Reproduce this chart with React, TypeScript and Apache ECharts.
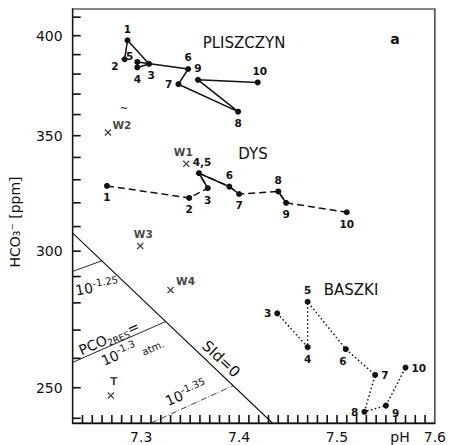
import { useEffect, useRef } from "react";
import * as echarts from "echarts";

// ---- data (pH, HCO3- in ppm) ----
const pliszczynLabels = ["2", "1", "3", "4", "5", "6", "7", "8", "9", "10"];
const pliszczynPH = [7.283, 7.286, 7.308, 7.296, 7.296, 7.348, 7.338, 7.399, 7.358, 7.419];
const pliszczynHCO3 = [387.6, 397.5, 385.2, 383.4, 386.2, 382.6, 374.9, 361.4, 377.1, 375.8];

const dysLabels = ["1", "2", "3", "4,5", "6", "7", "8", "9", "10"];
const dysPH = [7.265, 7.349, 7.368, 7.359, 7.39, 7.4, 7.44, 7.448, 7.51];
const dysHCO3 = [327.3, 322.1, 326.3, 332.9, 327.0, 323.8, 324.9, 320.0, 316.0];
// index ranges of DYS drawn with a solid stroke in the original
const dysSolidRuns = [[2, 5], [6, 7]];

const baszkiLabels = ["3", "4", "5", "6", "7", "8", "9", "10"];
const baszkiPH = [7.439, 7.47, 7.47, 7.509, 7.539, 7.528, 7.55, 7.57];
const baszkiHCO3 = [276.1, 263.9, 280.4, 263.2, 254.3, 242.1, 244.1, 256.8];

const wellLabels = ["W1", "W2", "W3", "W4", "T"];
const wellPH = [7.346, 7.266, 7.299, 7.33, 7.269];
const wellHCO3 = [337.1, 351.5, 302.1, 284.8, 247.4];

// reference lines: SId = 0 and PCO2 isolines
const sidPH = [7.23, 7.434];
const sidHCO3 = [307.3, 238.5];
const pco2_125PH = [7.23, 7.26];
const pco2_125HCO3 = [292.0, 296.2];
const pco2_130PH = [7.23, 7.325];
const pco2_130HCO3 = [258.6, 273.1];
const pco2_135PH = [7.31, 7.394];
const pco2_135HCO3 = [238.5, 250.7];

// axes
const xRange = [7.23, 7.6];
const yRange = [238.5, 414.5];
const xTickLabels = [7.3, 7.4, 7.5, 7.6];
const xMinorStep = 0.01;
const xMinorTicks: number[] = [];
for (let i = 724; i <= 759; i++) xMinorTicks.push(i / 100);
const yTickLabels = [250, 300, 350, 400];
const yMinorTicks: number[] = [];
for (let v = 240; v <= 410; v += 10) yMinorTicks.push(v);

// ---- label placement (style) ----
type Place = [string, number[]];
const pliszczynPlace: Place[] = [
  ["left", [0, 7]], ["top", [0, 0]], ["bottom", [2, 0]], ["bottom", [0, 0]], ["left", [2, -6]],
  ["top", [0, 0]], ["left", [0, 0]], ["bottom", [0, 0]], ["top", [0, 0]], ["top", [2, 0]],
];
const dysPlace: Place[] = [
  ["bottom", [0, 0]], ["bottom", [0, 0]], ["bottom", [0, 0]], ["top", [3, 0]], ["top", [0, 0]],
  ["bottom", [0, 0]], ["top", [0, 0]], ["bottom", [0, 0]], ["bottom", [0, 0]],
];
const baszkiPlace: Place[] = [
  ["left", [0, 0]], ["bottom", [0, 0]], ["top", [0, 0]], ["bottom", [-3, 0]],
  ["right", [0, 0]], ["left", [0, 0]], ["right", [0, 7]], ["right", [0, 0]],
];
const wellPlace: Place[] = [
  ["top", [-3, 0]], ["right", [-2, -7]], ["top", [3, 0]], ["right", [-1, -9]], ["top", [3, -3]],
];

const F = "DejaVu Sans";
const INK = "#111";
const TICK_LEN = 8;

function pointSeries(xs: number[], ys: number[], labels: string[], places: Place[], lineType: any) {
  return {
    type: "line",
    data: xs.map((x, i) => ({
      value: [x, ys[i]],
      label: { show: true, formatter: labels[i], position: places[i][0], offset: places[i][1] },
    })),
    symbol: "circle",
    symbolSize: 6,
    itemStyle: { color: INK },
    lineStyle: { color: INK, width: 1.5, type: lineType },
    label: { fontFamily: F, fontSize: 10.5, fontWeight: "bold", color: INK, distance: 3 },
    silent: true,
    z: 5,
  };
}

function plainLine(xs: number[], ys: number[], width: number, type: any = "solid") {
  return {
    type: "line",
    data: xs.map((x, i) => [x, ys[i]]),
    symbol: "none",
    lineStyle: { color: INK, width, type },
    silent: true,
    z: 3,
  };
}

// inward tick marks drawn at data positions on an axis edge
function tickSeries(points: number[][], dx: number, dy: number) {
  return {
    type: "custom",
    data: points,
    clip: false,
    silent: true,
    z: 6,
    renderItem: (_p: any, api: any) => {
      const c = api.coord([api.value(0), api.value(1)]);
      return {
        type: "line",
        shape: { x1: c[0], y1: c[1], x2: c[0] + dx, y2: c[1] + dy },
        style: { stroke: INK, lineWidth: 1.6 },
      };
    },
  };
}

const X_SYMBOL = "path://M0,1.3L1.3,0L5,3.7L8.7,0L10,1.3L6.3,5L10,8.7L8.7,10L5,6.3L1.3,10L0,8.7L3.7,5Z";

export default function App() {
  const ref = useRef<HTMLDivElement>(null);
  useEffect(() => {
    const chart = echarts.init(ref.current!, null, { renderer: "svg" });
    const supRich = {
      s: { fontSize: 10, lineHeight: 10, verticalAlign: "top", fontFamily: F, fill: INK },
    };
    const isMajor = (v: number) => xTickLabels.some((t) => Math.abs(t - v) < 1e-6);
    const option: any = {
      animation: false,
      backgroundColor: "#fff",
      grid: {
        left: 72.7, right: 13.3, top: 9, bottom: 22,
        show: true, borderColor: INK, borderWidth: 1.2, backgroundColor: "rgba(0,0,0,0)",
      },
      xAxis: {
        type: "value",
        min: xRange[0], max: xRange[1], interval: xMinorStep,
        axisLine: { show: true, lineStyle: { color: INK, width: 1.3 } },
        axisTick: { show: false },
        axisLabel: {
          fontSize: 14, fontFamily: F, color: INK, margin: 7,
          formatter: (v: number) => (isMajor(v) ? v.toFixed(1) : ""),
        },
        splitLine: { show: false },
      },
      yAxis: {
        type: "log",
        logBase: 10,
        min: yRange[0], max: yRange[1],
        axisLine: { show: true, lineStyle: { color: INK, width: 1.3 } },
        axisTick: { show: false },
        axisLabel: {
          customValues: yTickLabels, fontSize: 14, fontFamily: F, color: INK, margin: 10,
          formatter: (v: number) => String(Math.round(v)),
        },
        splitLine: { show: false },
        minorTick: { show: false },
      },
      series: [
        tickSeries(yMinorTicks.map((v) => [xRange[0], v]), TICK_LEN, 0),
        tickSeries(xMinorTicks.map((v) => [v, yRange[0]]), 0, -TICK_LEN),
        plainLine(sidPH, sidHCO3, 1.1),
        plainLine(pco2_125PH, pco2_125HCO3, 0.9),
        plainLine(pco2_130PH, pco2_130HCO3, 0.9),
        plainLine(pco2_135PH, pco2_135HCO3, 0.8, [6, 2, 1, 2]),
        pointSeries(pliszczynPH, pliszczynHCO3, pliszczynLabels, pliszczynPlace, "solid"),
        pointSeries(dysPH, dysHCO3, dysLabels, dysPlace, [7, 4]),
        ...dysSolidRuns.map(([a, b]) => plainLine(dysPH.slice(a, b + 1), dysHCO3.slice(a, b + 1), 1.5)),
        pointSeries(baszkiPH, baszkiHCO3, baszkiLabels, baszkiPlace, [1.5, 2.5]),
        {
          type: "scatter",
          data: wellPH.map((x, i) => ({
            value: [x, wellHCO3[i]],
            label: { show: true, formatter: wellLabels[i], position: wellPlace[i][0], offset: wellPlace[i][1] },
          })),
          symbol: X_SYMBOL,
          symbolSize: 7,
          itemStyle: { color: INK },
          label: { fontFamily: F, fontSize: 10.5, fontWeight: "bold", color: INK, distance: 3 },
          silent: true,
          z: 5,
        },
      ],
      graphic: [
        { type: "text", x: 244, y: 43, style: { text: "PLISZCZYN", fontSize: 15, fontFamily: F, fill: INK, align: "center", verticalAlign: "middle" } },
        { type: "text", x: 253, y: 154, style: { text: "DYS", fontSize: 15, fontFamily: F, fill: INK, align: "center", verticalAlign: "middle" } },
        { type: "text", x: 351, y: 290, style: { text: "BASZKI", fontSize: 15, fontFamily: F, fill: INK, align: "center", verticalAlign: "middle" } },
        { type: "text", x: 395, y: 39, style: { text: "a", fontSize: 14, fontWeight: "bold", fontFamily: F, fill: INK, align: "center", verticalAlign: "middle" } },
        { type: "text", x: 400, y: 437, style: { text: "pH", fontSize: 14, fontFamily: F, fill: INK, align: "center", verticalAlign: "middle" } },
        { type: "text", x: 124, y: 108, style: { text: "~", fontSize: 10, fontFamily: F, fill: INK, align: "center", verticalAlign: "middle" } },
        { type: "text", x: 15, y: 222, rotation: Math.PI / 2, style: { text: "HCO₃⁻ [ppm]", fontSize: 14, fontFamily: F, fill: INK, align: "center", verticalAlign: "middle" } },
        { type: "text", x: 97, y: 287, rotation: 0.17, style: { text: "10{s|-1.25}", fontSize: 14, lineHeight: 18, fontFamily: F, fill: INK, align: "center", verticalAlign: "middle", rich: supRich } },
        {
          type: "text", x: 109, y: 338, rotation: 0.41,
          style: {
            text: "PCO{b|2RES}=", fontSize: 14, lineHeight: 18, fontFamily: F, fill: INK, align: "center", verticalAlign: "middle",
            rich: { b: { fontSize: 9, lineHeight: 9, verticalAlign: "bottom", fontFamily: F, fill: INK } },
          },
        },
        { type: "text", x: 119, y: 354, rotation: 0.41, style: { text: "10{s|-1.3}", fontSize: 14, lineHeight: 18, fontFamily: F, fill: INK, align: "center", verticalAlign: "middle", rich: supRich } },
        { type: "text", x: 153, y: 348, rotation: 0.41, style: { text: "atm.", fontSize: 10, fontFamily: F, fill: INK, align: "center", verticalAlign: "middle" } },
        { type: "text", x: 186, y: 393, rotation: 0.41, style: { text: "10{s|-1.35}", fontSize: 14, lineHeight: 18, fontFamily: F, fill: INK, align: "center", verticalAlign: "middle", rich: supRich } },
        { type: "text", x: 221, y: 359, rotation: -0.755, style: { text: "SId=0", fontSize: 15, fontFamily: F, fill: INK, align: "center", verticalAlign: "middle" } },
      ],
    };
    chart.setOption(option);
    return () => chart.dispose();
  }, []);
  return <div ref={ref} style={{ position: "absolute", left: 0, top: 0, width: 449, height: 445 }} />;
}
